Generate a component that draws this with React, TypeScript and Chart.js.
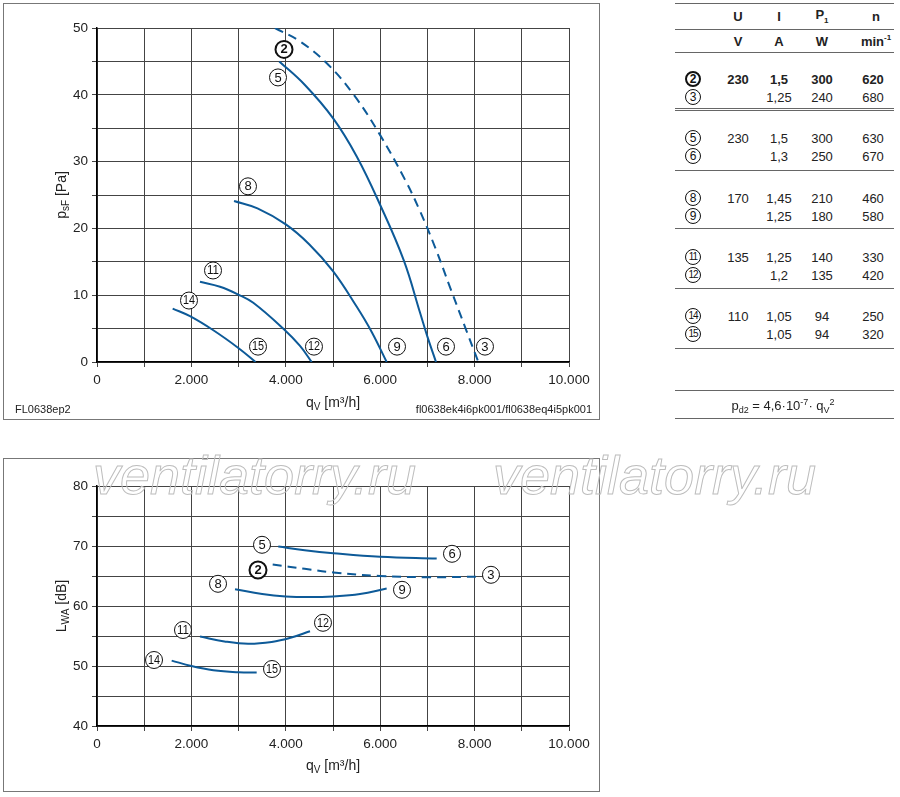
import React, { useEffect, useRef } from 'react';
import { Chart, registerables } from 'chart.js';

Chart.register(...registerables);

const FONT = '"Liberation Sans", Arial, Helvetica, sans-serif';
const BLUE = '#0d5a98';
const GRID = '#444';

// ---------- Top chart: p_sF [Pa] over q_V [m³/h] ----------
const c2Q = [3770, 4300, 4900, 5450, 5996, 6525, 6843, 7161, 7500, 7832, 8079];
const c2P = [50.0, 48.0, 44.5, 39.9, 34.0, 27.3, 22.6, 17.2, 10.8, 4.6, 0];
const c5Q = [3862, 4400, 5000, 5500, 6000, 6500, 6843, 7000, 7182];
const c5P = [45.0, 41.5, 36.5, 30.8, 23.5, 15.2, 7.4, 3.8, 0];
const c8Q = [2903, 3400, 4000, 4500, 5000, 5500, 5820, 6137];
const c8P = [24.1, 23.0, 20.6, 17.6, 13.6, 8.3, 4.5, 0];
const c11Q = [2182, 2606, 2994, 3311, 3960, 4301, 4548];
const c11P = [12.0, 11.26, 10.1, 8.86, 4.9, 2.4, 0];
const c14Q = [1603, 1970, 2465, 2994, 3360];
const c14P = [8.0, 6.86, 4.75, 2.1, 0];

const topLabelText = ['2', '5', '3', '6', '9', '12', '15', '8', '11', '14'];
const topLabelQ = [3962, 3835, 8220, 7394, 6356, 4597, 3411, 3199, 2458, 1949];
const topLabelP = [46.8, 42.6, 2.3, 2.3, 2.3, 2.3, 2.3, 26.3, 13.7, 9.2];
const topLabelBold = [true, false, false, false, false, false, false, false, false, false];

// ---------- Bottom chart: L_WA [dB] over q_V [m³/h] ----------
const b56Q = [3841, 4400, 5007, 5996, 7197];
const b56L = [69.9, 69.3, 68.8, 68.2, 67.9];
const b23Q = [3722, 4400, 5007, 5996, 6985, 8079];
const b23L = [66.9, 66.2, 65.6, 65.0, 64.8, 64.9];
const b89Q = [2924, 3500, 4000, 4500, 5000, 5572, 6137];
const b89L = [62.8, 62.0, 61.6, 61.5, 61.6, 62.0, 62.9];
const b1112Q = [2182, 2700, 3200, 3700, 4100, 4513];
const b1112L = [54.9, 54.1, 53.7, 54.0, 54.7, 55.8];
const b1415Q = [1582, 2000, 2465, 3000, 3383];
const b1415L = [50.9, 50.0, 49.3, 48.95, 48.9];

const botLabelText = ['5', '6', '2', '3', '8', '9', '11', '12', '14', '15'];
const botLabelQ = [3496, 7521, 3411, 8347, 2564, 6462, 1822, 4788, 1208, 3708];
const botLabelL = [70.2, 68.7, 66.0, 65.2, 63.7, 62.7, 56.0, 57.2, 51.0, 49.5];
const botLabelBold = [false, false, true, false, false, false, false, false, false, false];

// ---------- Table ----------
const tblId = ['2', '3', '5', '6', '8', '9', '11', '12', '14', '15'];
const tblU = ['230', '', '230', '', '170', '', '135', '', '110', ''];
const tblI = ['1,5', '1,25', '1,5', '1,3', '1,45', '1,25', '1,25', '1,2', '1,05', '1,05'];
const tblP = ['300', '240', '300', '250', '210', '180', '140', '135', '94', '94'];
const tblN = ['620', '680', '630', '670', '460', '580', '330', '420', '250', '320'];
const tblBold = [true, false, false, false, false, false, false, false, false, false];

const toPts = (xs: number[], ys: number[]) => xs.map((x, i) => ({ x, y: ys[i] }));
const fmtQ = (v: number) => (v === 0 ? '0' : `${Math.round(v / 1000)}.000`);

function lineDs(xs: number[], ys: number[], dashed = false) {
  return {
    data: toPts(xs, ys),
    showLine: true,
    borderColor: BLUE,
    backgroundColor: BLUE,
    borderWidth: 2,
    pointRadius: 0,
    tension: 0.4,
    borderDash: dashed ? [9, 6] : [],
    fill: false,
  };
}

function circlePlugin(texts: string[], xs: number[], ys: number[], bold: boolean[]) {
  return {
    id: 'circleLabels',
    afterDatasetsDraw(chart: any) {
      const { ctx, scales } = chart;
      ctx.save();
      texts.forEach((t, i) => {
        const px = scales.x.getPixelForValue(xs[i]);
        const py = scales.y.getPixelForValue(ys[i]);
        ctx.beginPath();
        ctx.arc(px, py, 8.5, 0, Math.PI * 2);
        ctx.fillStyle = '#fff';
        ctx.fill();
        ctx.lineWidth = bold[i] ? 2 : 1;
        ctx.strokeStyle = '#111';
        ctx.stroke();
        ctx.fillStyle = '#111';
        ctx.textAlign = 'center';
        ctx.textBaseline = 'middle';
        ctx.font = `${bold[i] ? 'bold ' : ''}${t.length > 1 ? 12 : 13}px ${FONT}`;
        ctx.fillText(t, px, py + 0.5, t.length > 1 ? 12 : 20);
      });
      ctx.restore();
    },
  };
}

function scalesCfg(yMin: number, yMax: number, yW: number, xH: number) {
  return {
    x: {
      type: 'linear' as const,
      min: 0,
      max: 10000,
      ticks: {
        stepSize: 1000,
        autoSkip: false,
        maxRotation: 0,
        padding: 5,
        color: '#222',
        font: { family: FONT, size: 13.5 },
        callback: (v: any) => (Number(v) % 2000 === 0 ? fmtQ(Number(v)) : ''),
      },
      grid: { color: GRID, lineWidth: 1, tickLength: 5, drawTicks: true },
      border: { color: '#000', width: 1.5 },
      afterFit: (s: any) => {
        s.height = xH;
      },
    },
    y: {
      type: 'linear' as const,
      min: yMin,
      max: yMax,
      ticks: {
        stepSize: 5,
        autoSkip: false,
        padding: 4,
        color: '#222',
        font: { family: FONT, size: 13.5 },
        callback: (v: any) => (Number(v) % 10 === 0 ? String(v) : ''),
      },
      grid: { color: GRID, lineWidth: 1, tickLength: 5, drawTicks: true },
      border: { color: '#000', width: 1.5 },
      afterFit: (s: any) => {
        s.width = yW;
      },
    },
  };
}

function ChartBox(props: { left: number; top: number; width: number; height: number; build: () => any }) {
  const ref = useRef<HTMLCanvasElement | null>(null);
  useEffect(() => {
    if (!ref.current) return;
    const chart = new Chart(ref.current, props.build());
    return () => chart.destroy();
  }, []);
  return (
    <canvas
      ref={ref}
      width={props.width}
      height={props.height}
      style={{ position: 'absolute', left: props.left, top: props.top, width: props.width, height: props.height }}
    />
  );
}

const buildTop = () => ({
  type: 'scatter',
  data: {
    datasets: [
      lineDs(c2Q, c2P, true),
      lineDs(c5Q, c5P),
      lineDs(c8Q, c8P),
      lineDs(c11Q, c11P),
      lineDs(c14Q, c14P),
    ],
  },
  options: {
    responsive: false,
    animation: false,
    layout: { padding: { left: 0, top: 24, right: 30, bottom: 0 } },
    plugins: { legend: { display: false }, tooltip: { enabled: false } },
    scales: scalesCfg(0, 50, 93, 56),
  },
  plugins: [circlePlugin(topLabelText, topLabelQ, topLabelP, topLabelBold)],
});

const buildBottom = () => ({
  type: 'scatter',
  data: {
    datasets: [
      lineDs(b56Q, b56L),
      lineDs(b23Q, b23L, true),
      lineDs(b89Q, b89L),
      lineDs(b1112Q, b1112L),
      lineDs(b1415Q, b1415L),
    ],
  },
  options: {
    responsive: false,
    animation: false,
    layout: { padding: { left: 0, top: 27, right: 30, bottom: 0 } },
    plugins: { legend: { display: false }, tooltip: { enabled: false } },
    scales: scalesCfg(40, 80, 93, 64),
  },
  plugins: [circlePlugin(botLabelText, botLabelQ, botLabelL, botLabelBold)],
});

const txt = (x: number, y: number, content: any, extra: any = {}) => ({
  position: 'absolute' as const,
  left: x,
  top: y,
  transform: 'translate(-50%, -50%)',
  whiteSpace: 'nowrap' as const,
  ...extra,
});

function Circ({ x, y, n, bold }: { x: number; y: number; n: string; bold: boolean }) {
  return (
    <div
      style={{
        position: 'absolute',
        left: x - 8,
        top: y - 8,
        width: 16,
        height: 16,
        boxSizing: 'border-box',
        border: `${bold ? 2 : 1}px solid #111`,
        borderRadius: '50%',
        fontSize: n.length > 1 ? 10 : 12,
        fontWeight: bold ? 'bold' : 'normal',
        lineHeight: bold ? '12px' : '14px',
        textAlign: 'center',
        letterSpacing: n.length > 1 ? -1 : 0,
        color: '#111',
      }}
    >
      {n}
    </div>
  );
}

function Table() {
  const cols = [738, 779, 822, 873];
  const hl = (y: number) => (
    <div key={'l' + y} style={{ position: 'absolute', left: 675, top: y, width: 219, height: 1, background: '#666' }} />
  );
  const lines = [3, 29, 52, 108, 110, 170, 228, 288, 348, 390, 418];
  return (
    <div style={{ position: 'absolute', left: 0, top: 0, fontFamily: FONT, fontSize: 13, color: '#222' }}>
      {lines.map(hl)}
      <div style={txt(cols[0], 16, null, { fontWeight: 'bold' })}>U</div>
      <div style={txt(cols[1], 16, null, { fontWeight: 'bold' })}>I</div>
      <div style={txt(cols[2], 16, null, { fontWeight: 'bold' })}>
        P<sub style={{ fontSize: 8 }}>1</sub>
      </div>
      <div style={txt(cols[3] + 3, 16, null, { fontWeight: 'bold' })}>n</div>
      <div style={txt(cols[0], 41, null, { fontWeight: 'bold' })}>V</div>
      <div style={txt(cols[1], 41, null, { fontWeight: 'bold' })}>A</div>
      <div style={txt(cols[2], 41, null, { fontWeight: 'bold' })}>W</div>
      <div style={txt(cols[3] + 3, 41, null, { fontWeight: 'bold' })}>
        min<sup style={{ fontSize: 8 }}>-1</sup>
      </div>
      {tblId.map((id, i) => {
        const y = 79 + Math.floor(i / 2) * 59.25 + (i % 2) * 18;
        const fw = tblBold[i] ? 'bold' : 'normal';
        return (
          <React.Fragment key={id}>
            <Circ x={693} y={y} n={id} bold={tblBold[i]} />
            <div style={txt(cols[0], y, null, { fontWeight: fw })}>{tblU[i]}</div>
            <div style={txt(cols[1], y, null, { fontWeight: fw })}>{tblI[i]}</div>
            <div style={txt(cols[2], y, null, { fontWeight: fw })}>{tblP[i]}</div>
            <div style={txt(cols[3], y, null, { fontWeight: fw })}>{tblN[i]}</div>
          </React.Fragment>
        );
      })}
      <div style={txt(783, 406, null)}>
        p<sub style={{ fontSize: 9 }}>d2</sub> = 4,6·10<sup style={{ fontSize: 9 }}>-7</sup>· q<sub style={{ fontSize: 9 }}>V</sub>
        <sup style={{ fontSize: 9 }}>2</sup>
      </div>
    </div>
  );
}

export default function App() {
  const sub = { fontSize: 10 };
  return (
    <div
      style={{
        position: 'absolute',
        left: 0,
        top: 0,
        width: 900,
        height: 797,
        background: '#fff',
        fontFamily: FONT,
        color: '#222',
        overflow: 'hidden',
      }}
    >
      {/* frames */}
      <div style={{ position: 'absolute', left: 3, top: 3, width: 597, height: 417, boxSizing: 'border-box', border: '1px solid #777' }} />
      <div style={{ position: 'absolute', left: 3, top: 458, width: 597, height: 334, boxSizing: 'border-box', border: '1px solid #777' }} />

      <ChartBox left={4} top={4} width={595} height={414} build={buildTop} />
      <ChartBox left={4} top={459} width={595} height={331} build={buildBottom} />

      {/* axis titles, top chart */}
      <div style={txt(62, 195, null, { transform: 'translate(-50%, -50%) rotate(-90deg)', fontSize: 14 })}>
        p<sub style={sub}>sF</sub> [Pa]
      </div>
      <div style={txt(333, 403, null, { fontSize: 14 })}>
        q<sub style={sub}>V</sub> [m³/h]
      </div>
      <div style={{ position: 'absolute', left: 15, top: 403, fontSize: 11 }}>FL0638ep2</div>
      <div style={{ position: 'absolute', right: 900 - 592, top: 403, fontSize: 11 }}>fl0638ek4i6pk001/fl0638eq4i5pk001</div>

      {/* axis titles, bottom chart */}
      <div style={txt(62, 606, null, { transform: 'translate(-50%, -50%) rotate(-90deg)', fontSize: 14 })}>
        L<sub style={sub}>WA</sub> [dB]
      </div>
      <div style={txt(333, 766, null, { fontSize: 14 })}>
        q<sub style={sub}>V</sub> [m³/h]
      </div>

      <Table />

      {/* watermark */}
      {[93, 493].map((x) => (
        <div
          key={x}
          style={{
            position: 'absolute',
            left: x,
            top: 448,
            fontSize: 54,
            lineHeight: 1,
            fontStyle: 'italic',
            fontFamily: FONT,
            color: 'transparent',
            WebkitTextStroke: '1px #bdbdbd',
            pointerEvents: 'none',
            whiteSpace: 'nowrap',
          }}
        >
          ventilatorry.ru
        </div>
      ))}
    </div>
  );
}
